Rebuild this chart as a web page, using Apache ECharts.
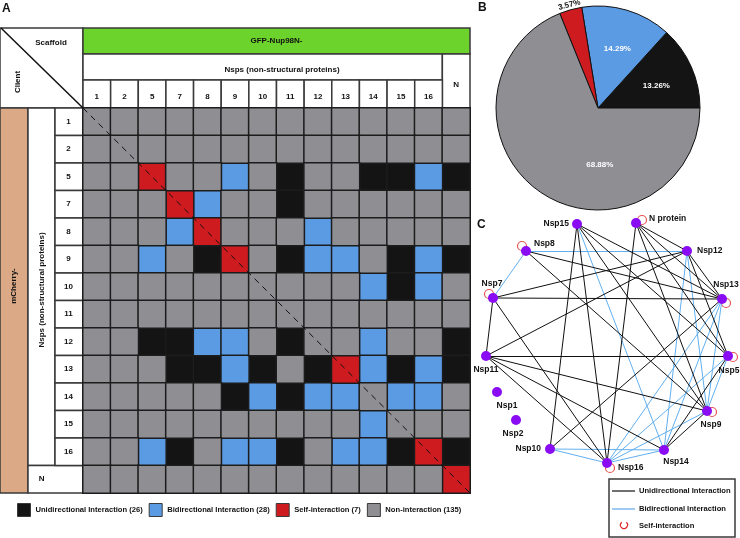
<!DOCTYPE html>
<html>
<head>
<meta charset="utf-8">
<script src="https://cdn.jsdelivr.net/npm/echarts@6/dist/echarts.min.js"></script>
<style>
  html, body { margin: 0; padding: 0; background: #fff; }
  #chart { width: 740px; height: 538px; }
</style>
</head>
<body>
<div id="chart"></div>
<script>
// ---- Data -------------------------------------------------------------

// Scaffold columns and client rows (same protein set)
var proteins = ['1', '2', '5', '7', '8', '9', '10', '11', '12', '13', '14', '15', '16', 'N'];

// Unidirectional interactions: [client row, scaffold column]
var unidirectional = [
  ['5', '11'], ['5', '14'], ['5', '15'], ['5', 'N'],
  ['7', '11'],
  ['9', '8'], ['9', '11'], ['9', '15'], ['9', 'N'],
  ['10', '15'],
  ['12', '5'], ['12', '7'], ['12', '11'], ['12', 'N'],
  ['13', '7'], ['13', '8'], ['13', '10'], ['13', '12'], ['13', '15'], ['13', 'N'],
  ['14', '9'], ['14', '11'],
  ['16', '7'], ['16', '11'], ['16', '15'], ['16', 'N']
];

// Bidirectional pairs (each pair fills two mirrored cells)
var bidirectional = [
  ['5', '9'], ['5', '16'], ['7', '8'], ['8', '12'], ['9', '12'], ['9', '13'], ['9', '16'],
  ['10', '14'], ['10', '16'], ['12', '14'], ['13', '14'], ['13', '16'], ['14', '15'], ['14', '16']
];

// Self-interacting proteins
var selfInteraction = ['5', '7', '8', '9', '13', '16', 'N'];

// Pie (B)
var pieNames = ['Unidirectional', 'Bidirectional', 'Self', 'Non'];
var pieValues = [13.26, 14.29, 3.57, 68.88];

// Network (C) node layout
var nodeNames = ['Nsp15', 'N protein', 'Nsp12', 'Nsp8', 'Nsp7', 'Nsp13', 'Nsp11', 'Nsp5', 'Nsp1', 'Nsp2', 'Nsp9', 'Nsp10', 'Nsp14', 'Nsp16'];
var nodeX = [577, 636, 687, 526, 493, 722, 486, 728, 497, 516, 707, 550, 664, 607];
var nodeY = [224, 223, 251, 251, 298, 299, 356, 356, 392, 420, 411, 449, 450, 463];

// ---- Styles -------------------------------------------------------------
var FONT = 'Arial, "Liberation Sans", sans-serif';
var COLORS = ['#141414', '#5b9be3', '#cd1b20', '#8e8e93'];
var typeNames = ['Unidirectional Interaction', 'Bidirectional Interaction', 'Self-interaction', 'Non-interaction'];
var GX = 83, GY = 108, GW = 387, GH = 385;
var CW = GW / 14, CH = GH / 14;

// ---- Build matrix cells ---------------------------------------------------
var cellType = {};
unidirectional.forEach(function (p) { cellType[p[0] + '|' + p[1]] = 0; });
bidirectional.forEach(function (p) {
  cellType[p[0] + '|' + p[1]] = 1;
  cellType[p[1] + '|' + p[0]] = 1;
});
selfInteraction.forEach(function (p) { cellType[p + '|' + p] = 2; });

var cells = [[], [], [], []];
proteins.forEach(function (r, yi) {
  proteins.forEach(function (c, xi) {
    var t = cellType[r + '|' + c];
    if (t === undefined) t = 3;
    cells[t].push([xi, yi, 1]);
  });
});
var legendNames = typeNames.map(function (n, i) { return n + ' (' + cells[i].length + ')'; });

var heatSeries = cells.map(function (d, i) {
  return {
    name: legendNames[i],
    type: 'heatmap',
    xAxisIndex: 0,
    yAxisIndex: 0,
    data: d,
    itemStyle: { color: COLORS[i], borderColor: '#1c1c1c', borderWidth: 1.5 },
    emphasis: { disabled: true }
  };
});

// ---- Network edges ---------------------------------------------------------
function nodeName(p) { return p === 'N' ? 'N protein' : 'Nsp' + p; }

var links = [];
bidirectional.forEach(function (p) {
  links.push({ source: nodeName(p[0]), target: nodeName(p[1]), lineStyle: { color: '#62b0f0' } });
});
unidirectional.forEach(function (p) {
  links.push({ source: nodeName(p[1]), target: nodeName(p[0]), lineStyle: { color: '#111' } });
});

var nodeLabel = {
  'Nsp15': { position: 'left', distance: 3 },
  'N protein': { position: 'right', distance: 8, offset: [0, -4] },
  'Nsp12': { position: 'right', distance: 5 },
  'Nsp8': { position: 'right', distance: 3, offset: [0, -7] },
  'Nsp7': { position: 'top', distance: 5, offset: [-1, 0] },
  'Nsp13': { position: 'top', distance: 5, offset: [4, 0] },
  'Nsp11': { position: 'bottom', distance: 4 },
  'Nsp5': { position: 'bottom', distance: 5, offset: [1, 0] },
  'Nsp1': { position: 'bottom', distance: 4, offset: [10, 0] },
  'Nsp2': { position: 'bottom', distance: 4, offset: [-3, 0] },
  'Nsp9': { position: 'bottom', distance: 4, offset: [4, 0] },
  'Nsp10': { position: 'left', distance: 4 },
  'Nsp14': { position: 'bottom', distance: 3, offset: [12, -1] },
  'Nsp16': { position: 'right', distance: 6, offset: [0, 5] }
};

var nodes = nodeNames.map(function (n, i) {
  return { name: n, value: [nodeX[i], nodeY[i]], label: nodeLabel[n] };
});

var loopOffset = { '5': [5, 1], '7': [-4, -4], '8': [-4, -5], '9': [5, 1], '13': [4, 4], '16': [3, 5], 'N': [6, -3] };
var loops = selfInteraction.map(function (p) {
  var i = nodeNames.indexOf(nodeName(p));
  return { value: [nodeX[i], nodeY[i]], symbolOffset: loopOffset[p] };
});

// ---- Pie labels ------------------------------------------------------------
var pieLabel = [
  { offset: [9, 0] },
  { offset: [4, -7] },
  { offset: [-0.5, -53], color: '#111', rotate: 15 },
  { offset: [32, 12] }
];
var pieData = pieNames.map(function (n, i) {
  return { name: n, value: pieValues[i], itemStyle: { color: COLORS[i] }, label: pieLabel[i] };
});

// ---- Graphic (table frame, panel letters, network legend) -----------------
function text(x, y, s, size, rot, align) {
  return {
    type: 'text', x: x, y: y, rotation: rot || 0, z: 20, silent: true,
    style: { text: s, fill: '#111', font: 'bold ' + size + 'px ' + FONT, align: align || 'center', verticalAlign: 'middle' }
  };
}
function box(x, y, w, h, fill) {
  return {
    type: 'rect', z: 1, silent: true,
    shape: { x: x, y: y, width: w, height: h },
    style: { fill: fill, stroke: '#3a3a3a', lineWidth: 1.5 }
  };
}
function line(x1, y1, x2, y2, color, width, dash) {
  return {
    type: 'line', z: 20, silent: true,
    shape: { x1: x1, y1: y1, x2: x2, y2: y2 },
    style: { stroke: color, lineWidth: width, lineDash: dash || null }
  };
}

var graphics = [
  text(2, 9, 'A', 12, 0, 'left'),
  text(478, 8, 'B', 12, 0, 'left'),
  text(477, 225, 'C', 12, 0, 'left'),
  // top-left corner
  box(0, 28, GX, GY - 28, '#fff'),
  line(1, 28, GX, GY, '#111', 1.5),
  text(51, 43, 'Scaffold', 8),
  text(17.5, 82, 'Client', 8, Math.PI / 2),
  // column header
  box(GX, 28, GW, 26, '#6cd22c'),
  text(GX + GW / 2, 41, 'GFP-Nup98N-', 8),
  box(GX, 54, CW * 13, 26, '#fff'),
  text(282, 70, 'Nsps (non-structural proteins)', 8),
  box(GX + CW * 13, 54, CW, 54, '#fff'),
  // row header
  box(0, GY, 28, GH, '#dba986'),
  text(14, 286, 'mCherry-', 8, Math.PI / 2),
  box(28, GY, 27, CH * 13, '#fff'),
  text(41.5, 290, 'Nsps (non-structural proteins)', 8, Math.PI / 2),
  box(28, GY + CH * 13, 55, CH, '#fff'),
  // diagonal
  line(GX, GY, GX + GW, GY + GH, '#111', 1, [6, 5]),
  // network legend
  box(609, 479, 126, 58, '#fff'),
  line(612, 491, 635, 491, '#111', 1.2),
  text(639, 491, 'Unidirectional Interaction', 7.6, 0, 'left'),
  line(612, 509, 635, 509, '#62a8e8', 1.2),
  text(639, 509, 'Bidirectional Interaction', 7.6, 0, 'left'),
  {
    type: 'arc', z: 20, silent: true,
    shape: { cx: 624, cy: 525, r: 3.5, startAngle: -Math.PI / 2 + 0.7, endAngle: Math.PI * 1.5 - 0.7 },
    style: { stroke: '#e0282c', lineWidth: 1.2, fill: null }
  },
  text(639, 526, 'Self-interaction', 7.6, 0, 'left')
];
for (var i = 0; i < 13; i++) {
  graphics.push(box(GX + i * CW, 80, CW, 28, '#fff'));
  graphics.push(box(55, GY + i * CH, 28, CH, '#fff'));
}

// ---- Chart ------------------------------------------------------------------
var chart = echarts.init(document.getElementById('chart'));

var option = {
  animation: false,
  backgroundColor: '#fff',
  textStyle: { fontFamily: FONT },
  grid: [
    { left: GX, top: GY, width: GW, height: GH, outerBoundsMode: 'none', containLabel: false },
    { left: 470, top: 220, width: 270, height: 260, outerBoundsMode: 'none', containLabel: false }
  ],
  xAxis: [
    {
      type: 'category', gridIndex: 0, position: 'top', z: 10,
      data: proteins.map(function (p) {
        return p === 'N' ? { value: p, textStyle: { padding: [0, 0, 12, 0] } } : p;
      }),
      axisLine: { show: false }, axisTick: { show: false }, splitLine: { show: false },
      axisLabel: { margin: 7, fontSize: 8, fontWeight: 'bold', color: '#111', interval: 0 }
    },
    { type: 'value', gridIndex: 1, min: 470, max: 740, show: false }
  ],
  yAxis: [
    {
      type: 'category', gridIndex: 0, inverse: true, z: 10,
      data: proteins.map(function (p) {
        return p === 'N' ? { value: p, textStyle: { padding: [0, 24, 0, 0] } } : p;
      }),
      axisLine: { show: false }, axisTick: { show: false }, splitLine: { show: false },
      axisLabel: { margin: 14.5, align: 'center', fontSize: 8, fontWeight: 'bold', color: '#111', interval: 0 }
    },
    { type: 'value', gridIndex: 1, min: 220, max: 480, inverse: true, show: false }
  ],
  legend: {
    data: legendNames,
    left: 17, top: 503, padding: 0,
    itemWidth: 13, itemHeight: 13, itemGap: 6,
    icon: 'rect', selectedMode: false,
    itemStyle: { borderColor: '#3a3a3a', borderWidth: 1 },
    textStyle: { fontSize: 7.6, fontWeight: 'bold', color: '#111', fontFamily: FONT }
  },
  graphic: { elements: graphics },
  series: heatSeries.concat([
    {
      type: 'pie',
      center: [598, 108],
      radius: 102,
      startAngle: 0,
      clockwise: false,
      silent: true,
      itemStyle: { borderColor: '#111', borderWidth: 1 },
      label: { position: 'inside', formatter: '{c}%', color: '#fff', fontSize: 8, fontWeight: 'bold', fontFamily: FONT },
      labelLine: { show: false },
      data: pieData
    },
    {
      type: 'scatter',
      xAxisIndex: 1, yAxisIndex: 1, z: 1, silent: true,
      symbol: 'circle', symbolSize: 9,
      itemStyle: { color: 'rgba(0,0,0,0)', borderColor: '#e0282c', borderWidth: 1.2 },
      data: loops
    },
    {
      type: 'graph',
      coordinateSystem: 'cartesian2d',
      xAxisIndex: 1, yAxisIndex: 1, z: 2,
      layout: 'none', silent: true,
      symbol: 'circle', symbolSize: 10,
      itemStyle: { color: '#8a0cf2' },
      label: { show: true, fontSize: 8.5, fontWeight: 'bold', color: '#111', fontFamily: FONT },
      lineStyle: { width: 1, opacity: 1, curveness: 0 },
      edgeSymbol: ['none', 'none'],
      data: nodes,
      links: links
    }
  ])
};

chart.setOption(option);
</script>
</body>
</html>
